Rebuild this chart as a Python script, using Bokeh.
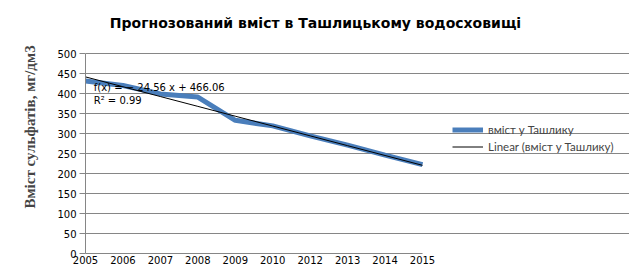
from bokeh.plotting import figure
from bokeh.models import ColumnDataSource, Legend, LegendItem, Label, FixedTicker, Range1d
from bokeh.embed import file_html
from bokeh.resources import INLINE

title = "Прогнозований вміст в Ташлицькому водосховищі"
years = ["2005", "2006", "2007", "2008", "2009", "2010", "2012", "2013", "2014", "2015"]
values = [431, 420, 399, 391, 333, 319, 294, 271, 246, 222]
slope = -24.56
intercept = 466.06
r2 = 0.99
y_ticks = [0, 50, 100, 150, 200, 250, 300, 350, 400, 450, 500]

xs = list(range(len(years)))
trend = [intercept + slope * (i + 1) for i in xs]

last = len(years) - 1
y_max = y_ticks[-1]
# frame covers the whole canvas right/top of the axes; plot area is only part of it
x_end = last * 544 / 337
y_end = y_max * 253 / 200

p = figure(width=629, height=276, output_backend="svg", toolbar_location=None,
           x_range=Range1d(0, x_end), y_range=Range1d(0, y_end),
           min_border_left=85, min_border_right=0, min_border_top=0, min_border_bottom=23)
p.outline_line_color = None

src = ColumnDataSource(dict(x=xs, y=values, t=trend))
r1 = p.line("x", "y", source=src, line_color="#4A7EBB", line_width=5)
r2l = p.line("x", "t", source=src, line_color="black", line_width=1)

p.xaxis.ticker = FixedTicker(ticks=xs)
p.xaxis.major_label_overrides = {i: y for i, y in enumerate(years)}
p.xaxis.bounds = (0, last)
p.yaxis.ticker = FixedTicker(ticks=y_ticks)
p.yaxis.bounds = (0, y_max)
for ax in (p.xaxis, p.yaxis):
    ax.axis_line_color = "#868686"
    ax.major_tick_line_color = "#868686"
    ax.minor_tick_line_color = None
    ax.major_label_text_font = "DejaVu Sans"
    ax.major_label_text_font_size = "10px"
    ax.major_label_text_color = "black"
p.xaxis.major_tick_out = 0
p.xaxis.major_tick_in = 0
p.xaxis.major_label_standoff = 2
p.yaxis.major_tick_out = 6
p.yaxis.major_tick_in = 0
p.yaxis.major_label_standoff = 3
p.yaxis.axis_label = "Вміст сульфатів, мг/дм3"
p.yaxis.axis_label_text_font = "Liberation Serif"
p.yaxis.axis_label_text_font_style = "bold"
p.yaxis.axis_label_text_font_size = "15px"
p.yaxis.axis_label_standoff = 16
p.xgrid.grid_line_color = None
p.ygrid.grid_line_color = "#868686"
p.ygrid.bounds = (0, last)

p.add_layout(Label(x=230, y=231, x_units="screen", y_units="screen", text=title,
                   text_align="center", text_baseline="alphabetic",
                   text_font="DejaVu Sans", text_font_style="bold",
                   text_font_size="14px", text_color="black"))

p.add_layout(Label(x=0.22, y=402, text="f(x) = − 24.56 x + 466.06",
                   text_font="DejaVu Sans", text_font_size="10px", text_color="black"))
p.add_layout(Label(x=0.22, y=368, text="R² = %.2f" % r2,
                   text_font="DejaVu Sans", text_font_size="10px", text_color="black"))

legend = Legend(items=[LegendItem(label="вміст у Ташлику", renderers=[r1]),
                       LegendItem(label="Linear (вміст у Ташлику)", renderers=[r2l])],
                location=(367, 98), border_line_color=None, background_fill_alpha=0,
                label_text_font="Lato", label_text_font_size="11.5px",
                glyph_width=31, glyph_height=17, label_height=17,
                spacing=0, label_standoff=5, padding=0, margin=0)
p.add_layout(legend)

open("out.html", "w").write(file_html(p, INLINE))
